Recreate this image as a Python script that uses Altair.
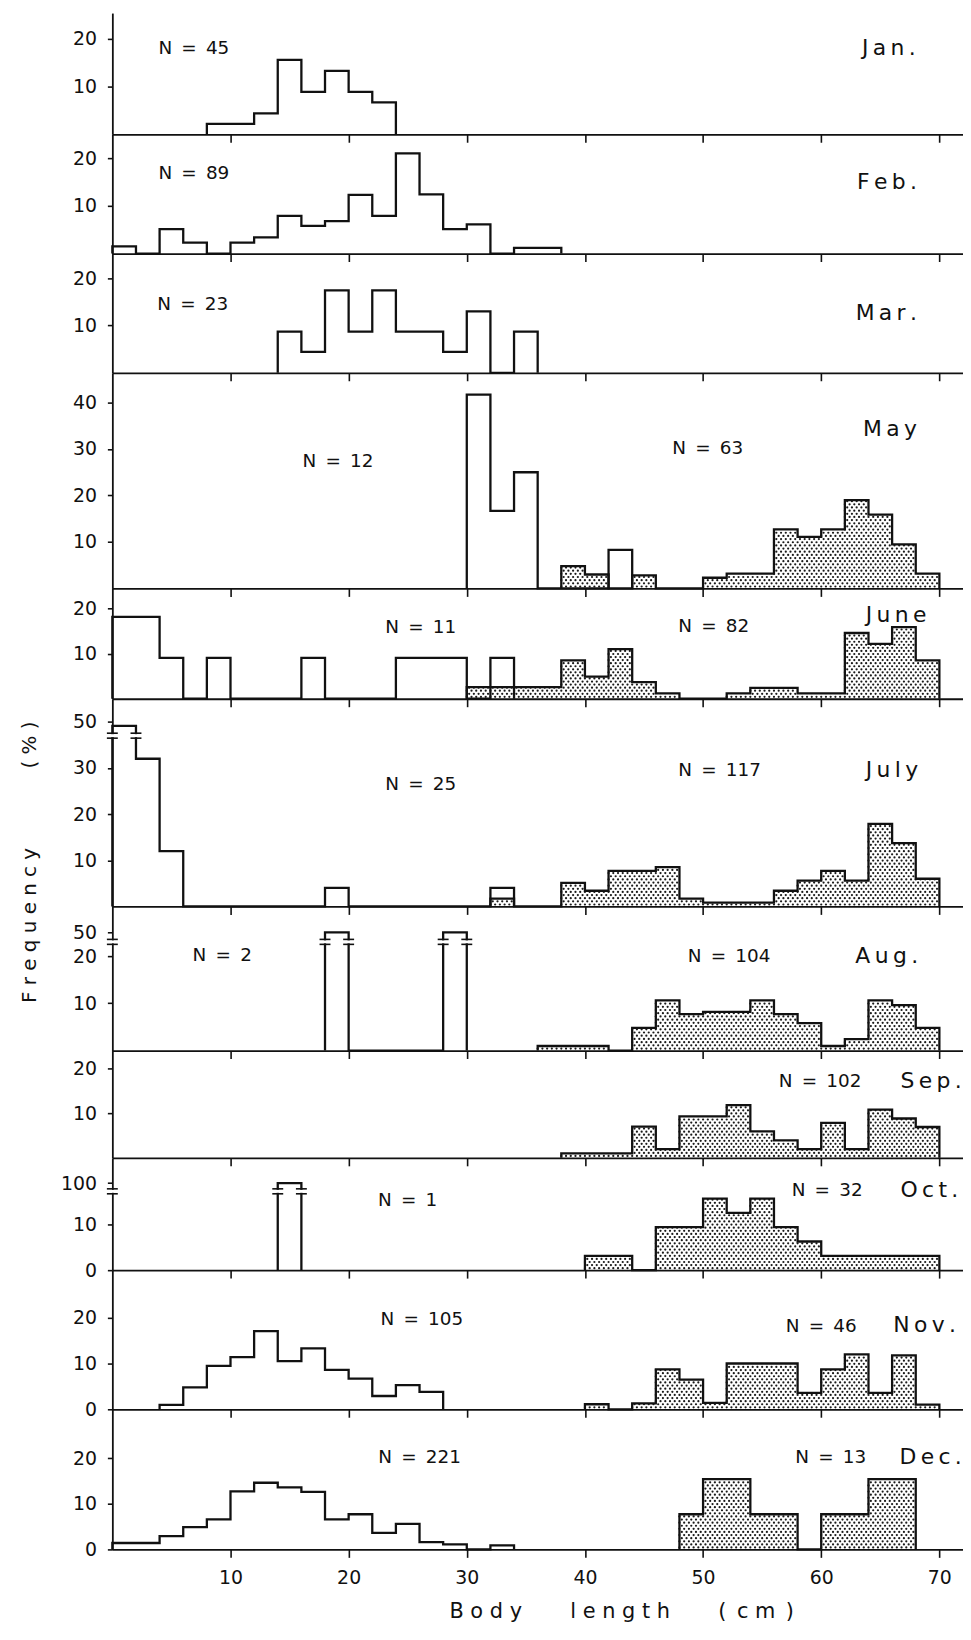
import altair as alt
import pandas as pd

# ---------------- data ----------------
MONTHS = ["Jan.", "Feb.", "Mar.", "May", "June", "July", "Aug.", "Sep.", "Oct.", "Nov.", "Dec."]

N_OPEN = [45, 89, 23, 12, 11, 25, 2, None, 1, 105, 221]
N_SHADED = [None, None, None, 63, 82, 117, 104, 102, 32, 46, 13]

BIN_WIDTH = 2  # cm

# open (unshaded) histograms: left edge of first 2-cm class and frequencies (%)
OPEN_START = [8, 0, 14, 30, 0, 0, 18, None, 14, 4, 0]
OPEN_FREQ = [
    [2.2, 2.2, 4.4, 15.6, 8.9, 13.3, 8.9, 6.7],
    [1.5, 0, 5.1, 2.3, 0, 2.3, 3.4, 7.9, 5.8, 6.8, 12.3, 7.9, 21.0, 12.4, 5.1, 6.1, 0, 1.2, 1.2],
    [8.7, 4.4, 17.4, 8.7, 17.4, 8.7, 8.7, 4.4, 13.0, 0, 8.7],
    [41.7, 16.7, 25.0, 0, 0, 0, 8.3],
    [18.2, 18.2, 9.1, 0, 9.1, 0, 0, 0, 9.1, 0, 0, 0, 9.1, 9.1, 9.1, 0, 9.1],
    [48, 32, 12, 0, 0, 0, 0, 0, 0, 4, 0, 0, 0, 0, 0, 0, 4],
    [50, 0, 0, 0, 0, 50],
    None,
    [100],
    [0.95, 4.8, 9.5, 11.4, 17.1, 10.5, 13.3, 8.6, 6.7, 2.9, 5.3, 3.8],
    [1.4, 1.4, 2.9, 4.9, 6.6, 12.7, 14.6, 13.6, 12.6, 6.6, 7.7, 3.6, 5.6, 1.6, 1.1, 0, 0.9],
]

# shaded (stippled) histograms
SHADED_START = [None, None, None, 38, 30, 32, 36, 38, 40, 40, 48]
SHADED_FREQ = [
    None, None, None,
    [4.8, 3.0, 0, 2.8, 0, 0, 2.3, 3.2, 3.2, 12.7, 11.1, 12.7, 19.0, 15.9, 9.5, 3.2],
    [2.6, 2.6, 2.6, 2.6, 8.5, 4.9, 11.0, 3.7, 1.2, 0, 0, 1.2, 2.4, 2.4, 1.2, 1.2, 14.6, 12.2, 15.9, 8.5],
    [1.7, 0, 0, 5.1, 3.4, 7.7, 7.7, 8.5, 1.7, 0.85, 0.85, 0.85, 3.4, 5.6, 7.7, 5.6, 17.9, 13.7, 6.0],
    [0.96, 0.96, 0.96, 0, 4.8, 10.6, 7.7, 8.2, 8.2, 10.6, 7.7, 5.8, 0.96, 2.4, 10.6, 9.6, 4.8],
    [0.98, 0.98, 0.98, 7.0, 1.96, 9.3, 9.3, 11.8, 5.9, 3.9, 1.96, 7.8, 1.96, 10.8, 8.8, 6.9],
    [3.1, 3.1, 0, 9.4, 9.4, 15.6, 12.5, 15.6, 9.4, 6.25, 3.1, 3.1, 3.1, 3.1, 3.1],
    [1.1, 0, 1.3, 8.7, 6.5, 1.4, 10.0, 10.0, 10.0, 3.6, 8.7, 12.0, 3.6, 11.8, 1.0],
    [7.7, 15.4, 15.4, 7.7, 7.7, 0, 7.7, 7.7, 15.4, 15.4],
]

# y-axis ticks (display position) and their printed labels
Y_TICK_POS = [[10, 20], [10, 20], [10, 20], [10, 20, 30, 40], [10, 20], [10, 20, 30, 40],
              [10, 20, 25], [10, 20], [0, 10, 19], [0, 10, 20], [0, 10, 20]]
Y_TICK_TEXT = [["10", "20"], ["10", "20"], ["10", "20"], ["10", "20", "30", "40"], ["10", "20"],
               ["10", "20", "30", "50"], ["10", "20", "50"], ["10", "20"], ["0", "10", "100"],
               ["0", "10", "20"], ["0", "10", "20"]]
X_TICKS = [10, 20, 30, 40, 50, 60, 70]

# broken axes: panel -> (last linear value, value of top tick, display pos of top tick, break-mark level)
AXIS_BREAK = {5: (32, 50, 40, 37.0), 6: (20, 50, 25, 23.0), 8: (16, 100, 19, 17.2)}

# ---------------- layout / annotation positions ----------------
X_MAX = 72
PLOT_W = 856
PANEL_H = [122, 120, 120, 217, 111, 209, 145, 108, 113, 140, 141]
Y_MAX = [25.4, 25.0, 25.2, 46.4, 24.5, 45.0, 30.5, 24.0, 24.5, 30.4, 30.7]
N_OPEN_POS = [(6.9, 18.1), (6.9, 16.8), (6.8, 14.6), (19.1, 27.5), (26.1, 15.9), (26.1, 26.6),
              (9.3, 20.3), None, (25.0, 15.3), (26.2, 19.7), (26.0, 20.2)]
N_SHADED_POS = [None, None, None, (50.4, 30.2), (50.9, 16.1), (51.4, 29.6), (52.2, 20.1),
                (59.9, 17.1), (60.5, 17.4), (60.0, 18.2), (60.8, 20.2)]
MONTH_POS = [(68.0, 18.1), (68.1, 14.9), (68.1, 12.7), (68.1, 34.3), (68.9, 18.7), (68.2, 29.5),
             (68.2, 20.1), (71.9, 17.1), (71.6, 17.4), (71.4, 18.4), (71.9, 20.2)]

Y_TITLE = "F r e q u e n c y" + "\u2003" * 4 + "( % )"
X_TITLE = "B o d y" + "\u2003\u2003 " + "l e n g t h" + "\u2003\u2003 " + "(\u2002c m\u2002)"
INK = "#111111"
FONT = "DejaVu Sans"
DOT_DX = 0.4    # cm between stipple dots
DOT_DY = 0.68   # % between stipple rows


def disp(i, v):
    if i in AXIS_BREAK:
        lo, top_val, top_pos, _ = AXIS_BREAK[i]
        if v > lo:
            return lo + (v - lo) * (top_pos - lo) / (top_val - lo)
    return float(v)


def step_rows(i, start, freqs, group):
    rows = [dict(x=start, y=0.0, idx=0, group=group)]
    for k, v in enumerate(freqs):
        rows.append(dict(x=start + BIN_WIDTH * k, y=disp(i, v), idx=k + 1, group=group))
    rows.append(dict(x=start + BIN_WIDTH * len(freqs), y=0.0, idx=len(freqs) + 1, group=group))
    return rows


def label_expr(pos, txt):
    expr = "datum.label"
    for p, t in zip(pos, txt):
        if str(p) != t:
            expr = "datum.value == %s ? '%s' : %s" % (p, t, expr)
    return expr


def n_text(n):
    return "N\u2002=\u2002" + str(n)


def spaced(word):
    return "\u2009".join(word)


def make_panel(i):
    last = i == len(MONTHS) - 1
    xkw = dict(values=X_TICKS, grid=False, tickSize=8, labels=last)
    if last:
        xkw.update(title=X_TITLE, labelFontSize=19, labelPadding=11, titleFontSize=21,
                   titlePadding=14, titleX=512, titleAlign="center")
    else:
        xkw.update(title=None)
    ykw = dict(values=Y_TICK_POS[i], labelExpr=label_expr(Y_TICK_POS[i], Y_TICK_TEXT[i]),
               grid=False, tickSize=5, labelPadding=11, labelFontSize=19)
    if i == 5:
        ykw.update(title=Y_TITLE, titleFontSize=20, titlePadding=33, titleY=164)
    else:
        ykw.update(title=None)

    X = alt.X("x:Q", scale=alt.Scale(domain=[0, X_MAX], nice=False, zero=False), axis=alt.Axis(**xkw))
    Y = alt.Y("y:Q", scale=alt.Scale(domain=[0, Y_MAX[i]], nice=False), axis=alt.Axis(**ykw))

    layers = []
    step = []
    if SHADED_FREQ[i] is not None:
        step += step_rows(i, SHADED_START[i], SHADED_FREQ[i], "shaded")
        bins = pd.DataFrame([dict(x0=SHADED_START[i] + BIN_WIDTH * k, v=disp(i, v))
                             for k, v in enumerate(SHADED_FREQ[i])])
        # stipple: one global dot lattice, each class keeps the lattice points lying inside it
        dots = (
            alt.Chart(bins)
            .transform_calculate(ys="sequence(0.42, datum.v - 0.1, %s)" % DOT_DY)
            .transform_flatten(["ys"])
            .transform_calculate(ph="(round((datum.ys - 0.42) / %s) %% 2) * %s" % (DOT_DY, DOT_DX / 2))
            .transform_calculate(
                xs="sequence(ceil((datum.x0 - datum.ph) / %s - 0.001) * %s + datum.ph, datum.x0 + %s - 0.001, %s)"
                % (DOT_DX, DOT_DX, BIN_WIDTH, DOT_DX))
            .transform_flatten(["xs"])
            .transform_filter("datum.xs > 0.15")
            .transform_calculate(x="datum.xs", y="datum.ys")
            .mark_circle(size=5, color="#1a1a1a", opacity=1)
            .encode(x=X, y=Y)
        )
        layers.append(dots)
    if OPEN_FREQ[i] is not None:
        step += step_rows(i, OPEN_START[i], OPEN_FREQ[i], "open")
    lines = (
        alt.Chart(pd.DataFrame(step))
        .mark_line(interpolate="step-after", color=INK, strokeWidth=2.3)
        .encode(x=X, y=Y, detail="group:N", order="idx:Q")
    )
    layers.append(lines)

    if i in AXIS_BREAK:
        lo, _, _, level = AXIS_BREAK[i]
        edges = {0}
        for k, v in enumerate(OPEN_FREQ[i]):
            if v > lo:
                edges.add(OPEN_START[i] + BIN_WIDTH * k)
                edges.add(OPEN_START[i] + BIN_WIDTH * (k + 1))
        bdf = pd.DataFrame([dict(x=e, y=level) for e in sorted(edges)])
        layers.append(alt.Chart(bdf).mark_tick(orient="horizontal", size=8, thickness=3, color="white", opacity=1)
                      .encode(x=X, y=Y))
        for off in (-2.5, 2.5):
            layers.append(alt.Chart(bdf).mark_tick(orient="horizontal", size=11, thickness=1.6, color=INK,
                                                   opacity=1, yOffset=off).encode(x=X, y=Y))

    nrows = []
    if N_OPEN[i] is not None:
        nrows.append(dict(x=N_OPEN_POS[i][0], y=N_OPEN_POS[i][1], text=n_text(N_OPEN[i])))
    if N_SHADED[i] is not None:
        nrows.append(dict(x=N_SHADED_POS[i][0], y=N_SHADED_POS[i][1], text=n_text(N_SHADED[i])))
    layers.append(
        alt.Chart(pd.DataFrame(nrows))
        .mark_text(align="center", baseline="middle", fontSize=18.5, font=FONT, color=INK)
        .encode(x=X, y=Y, text="text:N")
    )
    mdf = pd.DataFrame([dict(x=MONTH_POS[i][0], y=MONTH_POS[i][1], text=spaced(MONTHS[i]))])
    layers.append(
        alt.Chart(mdf)
        .mark_text(align="right", baseline="middle", fontSize=22, font=FONT, color=INK)
        .encode(x=X, y=Y, text="text:N")
    )
    return alt.layer(*layers).properties(width=PLOT_W, height=PANEL_H[i])


panels = [make_panel(i) for i in range(len(MONTHS))]

chart = (
    alt.vconcat(*panels, spacing=0, bounds="flush")
    .properties(padding={"left": 11, "top": 0, "right": 0, "bottom": 0})
    .configure_view(stroke=None)
    .configure_axis(domainColor=INK, tickColor=INK, labelColor=INK, titleColor=INK,
                    domainWidth=1.8, tickWidth=1.6, labelFont=FONT, titleFont=FONT,
                    titleFontWeight="normal", grid=False)
)

chart.save("out.html", embed_options={"renderer": "svg", "actions": False})
